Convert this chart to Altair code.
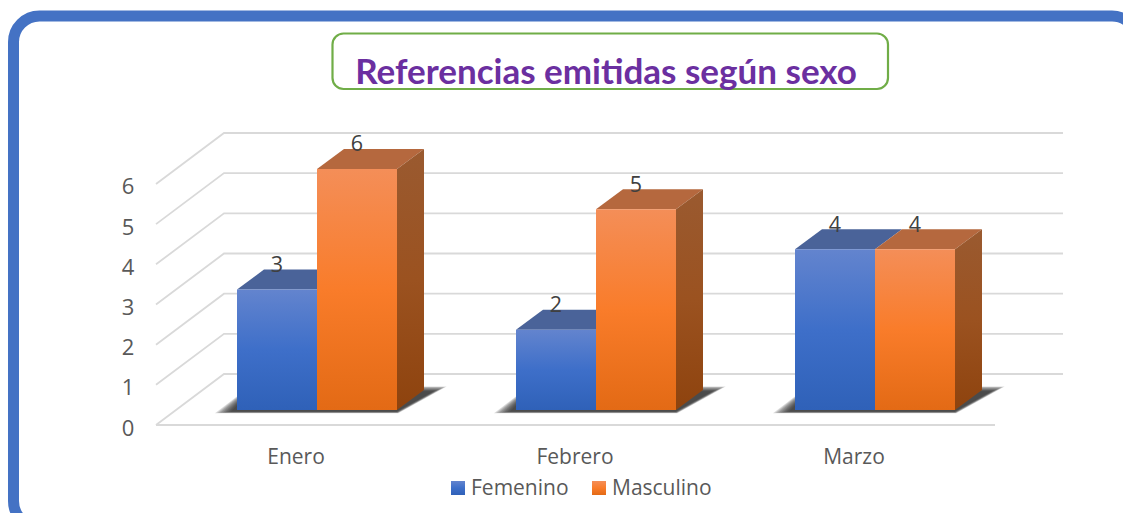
import altair as alt
import pandas as pd

# ---- chart values ----
MONTHS = ["Enero", "Febrero", "Marzo"]
FEMENINO = [3, 2, 4]
MASCULINO = [6, 5, 4]
TICKS = [0, 1, 2, 3, 4, 5, 6]
LEGEND = ["Femenino", "Masculino"]
TITLE = "Referencias emitidas según sexo"

# ---- layout ----
W, H = 1115, 505
SLOT = 279.0       # px per month
UNIT = 40.17       # px per value unit
X0, Y0 = 317 - 8, 410 - 8  # px of month 0 centre, value 0 on bar front plane
BAR = 80 / SLOT
DX, DY = 27 / SLOT, 20 / UNIT
FRONT_DY = -15 / UNIT
WALL_DY = 36 / UNIT
FLOOR_L, WALL_L = (156 - 317) / SLOT, (224 - 317) / SLOT
FLOOR_R, WALL_R = (995 - 317) / SLOT, (1063 - 317) / SLOT

xs = alt.Scale(domain=[-X0 / SLOT, (W - X0) / SLOT], range=[0, W], nice=False, zero=False)
ys = alt.Scale(domain=[(Y0 - H) / UNIT, Y0 / UNIT], range=[H, 0], nice=False, zero=False)
X = lambda f="x": alt.X(f"{f}:Q", scale=xs, axis=None)
Y = lambda f="y": alt.Y(f"{f}:Q", scale=ys, axis=None)


def grad(*stops):
    return alt.Gradient(
        gradient="linear", x1=0, y1=0, x2=0, y2=1,
        stops=[alt.GradientStop(offset=o, color=c) for o, c in stops],
    )


BLUE = grad((0, "#6384ce"), (0.5, "#3e6fc9"), (1, "#2f61b8"))
ORANGE = grad((0, "#f48e58"), (0.5, "#f97c2a"), (1, "#e36a15"))
SIDE = grad((0, "#9a5a30"), (0.5, "#9b5220"), (1, "#8e430e"))
BLUE_TOP, ORANGE_TOP = "#4a6399", "#b5683e"
GREY = "#595959"
FONT = "Open Sans"

bars = []
for i, (f, m) in enumerate(zip(FEMENINO, MASCULINO)):
    bars.append(dict(c=i - BAR, s="f", v=f))
    bars.append(dict(c=i, s="m", v=m))


def poly_rows(key, xl, dl, xr, dr, y0, y1):
    """Parallelogram-like floor/top face as an area: front edge y0, back edge y1."""
    pts = [(xl, y0, y0), (xl + dl, y1, y0), (xr, y1, y0), (xr + dr, y1, y1)]
    return [dict(id=key, x=a, y=b, y2=c) for a, b, c in pts]


def side_rows(key, x, top, bottom):
    return [
        dict(id=key, x=x, y=top, y2=bottom),
        dict(id=key, x=x + DX, y=top + DY, y2=bottom + DY),
    ]


def area(rows, **mk):
    return alt.Chart(pd.DataFrame(rows)).mark_area(line=False, **mk).encode(
        x=X(), y=Y(), y2=alt.Y2("y2:Q"), detail="id:N"
    )


layers = []

# frame and title box
one = pd.DataFrame({"k": [0]})
layers.append(
    alt.Chart(one).mark_rect(fill="white", stroke="#4472c4", strokeWidth=11, cornerRadius=26).encode(
        x=alt.value(5.5), x2=alt.value(1130), y=alt.value(8), y2=alt.value(519)
    )
)
layers.append(
    alt.Chart(one).mark_rect(fill="white", stroke="#70ad47", strokeWidth=2.2, cornerRadius=11).encode(
        x=alt.value(324.5), x2=alt.value(880), y=alt.value(25.5), y2=alt.value(81)
    )
)
layers.append(
    alt.Chart(pd.DataFrame({"t": [TITLE]})).mark_text(
        font="Lato", fontWeight="bold", fontSize=35, color="#6b2fa0", align="center", baseline="middle"
    ).encode(x=alt.value(598), y=alt.value(65), text="t:N")
)

# gridlines: floor edge, side wall, back wall
grid = []
for t in TICKS:
    grid += [
        dict(id=t, o=0, x=FLOOR_L, y=t + FRONT_DY),
        dict(id=t, o=1, x=WALL_L, y=t + WALL_DY),
        dict(id=t, o=2, x=WALL_R, y=t + WALL_DY),
    ]
floor = [
    dict(id=99, o=0, x=FLOOR_L, y=FRONT_DY),
    dict(id=99, o=1, x=FLOOR_R, y=FRONT_DY),
]
layers.append(
    alt.Chart(pd.DataFrame(grid + floor)).mark_line(color="#d9d9d9", strokeWidth=1.8).encode(
        x=X(), y=Y(), detail="id:N", order="o:Q"
    )
)

# soft floor shadows
for g in [12, 10, 8, 6, 4, 2, 0, -2, -4]:
    rows = []
    for i in range(len(MONTHS)):
        rows += poly_rows(
            f"s{i}",
            i - BAR - (10 + g) / SLOT, (23 + g) / SLOT,
            i + BAR + (g * 0.1) / SLOT, (40 + g * 0.7) / SLOT,
            -(2 + g * 0.1) / UNIT, (20 + g * 0.3) / UNIT,
        )
    layers.append(area(rows, color="#1c1c1c", opacity=0.16))

# bar tops and sides: month by month, blue behind orange
for i, b in enumerate(bars):
    if b["s"] == "f":
        layers.append(area(poly_rows(f"t{i}", b["c"], DX, b["c"] + BAR, DX, b["v"], b["v"] + DY), color=BLUE_TOP))
    else:
        layers.append(area(poly_rows(f"t{i}", b["c"], DX, b["c"] + BAR, DX, b["v"], b["v"] + DY), color=ORANGE_TOP))
        layers.append(area(side_rows(f"r{i}", b["c"] + BAR, b["v"], 0), color=SIDE))
    df = pd.DataFrame([dict(x=b["c"], x2=b["c"] + BAR, y=b["v"], y2=0)])
    layers.append(
        alt.Chart(df).mark_bar(color=BLUE if b["s"] == "f" else ORANGE).encode(
            x=X(), x2=alt.X2("x2:Q"), y=Y(), y2=alt.Y2("y2:Q")
        )
    )

# value labels
lab = pd.DataFrame([dict(x=b["c"] + BAR / 2, y=b["v"] + 23.5 / UNIT, t=str(b["v"])) for b in bars])
layers.append(
    alt.Chart(lab).mark_text(font=FONT, fontSize=21.5, color="#404040", align="center", baseline="middle").encode(
        x=X(), y=Y(), text="t:N"
    )
)

# value axis labels
tk = pd.DataFrame([dict(x=(128 - 317) / SLOT, y=t + FRONT_DY - 3.5 / UNIT, t=str(t)) for t in TICKS])
layers.append(
    alt.Chart(tk).mark_text(font=FONT, fontSize=22, color=GREY, align="center", baseline="middle").encode(
        x=X(), y=Y(), text="t:N"
    )
)

# category labels
cat = pd.DataFrame([dict(x=i - 21 / SLOT, y=-48 / UNIT, t=m) for i, m in enumerate(MONTHS)])
layers.append(
    alt.Chart(cat).mark_text(font=FONT, fontSize=21, color=GREY, align="center", baseline="middle").encode(
        x=X(), y=Y(), text="t:N"
    )
)

# legend
for name, fill, sx in zip(LEGEND, [BLUE, ORANGE], [443, 584]):
    layers.append(
        alt.Chart(pd.DataFrame({"t": [name]})).mark_rect(fill=fill).encode(
            x=alt.value(sx), x2=alt.value(sx + 14), y=alt.value(473), y2=alt.value(487)
        )
    )
    layers.append(
        alt.Chart(pd.DataFrame({"t": [name]})).mark_text(
            font=FONT, fontSize=21, color=GREY, align="left", baseline="middle"
        ).encode(x=alt.value(sx + 20), y=alt.value(481), text="t:N")
    )

chart = (
    alt.layer(*layers)
    .properties(width=W, height=H, padding=0, autosize=alt.AutoSizeParams(type="none"), background="white")
    .configure_view(stroke=None)
)
chart.save("out.html", embed_options={"renderer": "svg", "actions": False})
